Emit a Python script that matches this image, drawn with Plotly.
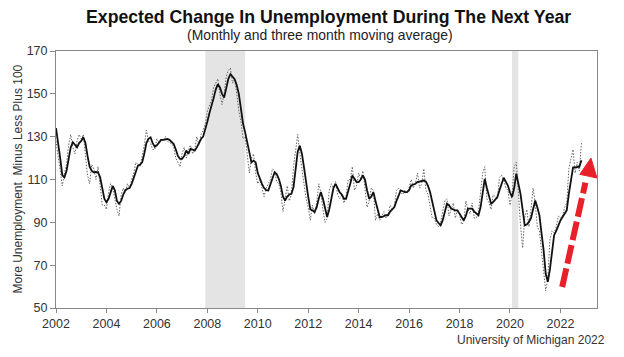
import plotly.graph_objects as go

# Monthly values, Jan 2002 .. Nov 2022 (dotted series)
monthly = {
    2002: [128, 121, 112, 107, 113, 117, 126, 131, 125, 122, 128, 131],
    2003: [129, 131, 121, 112, 108, 117, 115, 110, 116, 107, 98, 98],
    2004: [96, 104, 108, 106, 101, 96, 93, 103, 106, 104, 108, 106],
    2005: [110, 113, 118, 117, 116, 121, 126, 133, 128, 127, 124, 124],
    2006: [129, 127, 129, 128, 130, 128, 127, 127, 125, 120, 118, 116],
    2007: [122, 125, 120, 124, 126, 122, 124, 130, 126, 131, 133, 136],
    2008: [142, 145, 147, 153, 155, 157, 150, 145, 150, 158, 161, 162],
    2009: [155, 157, 150, 142, 137, 129, 130, 122, 113, 120, 122, 113],
    2010: [108, 110, 106, 102, 106, 108, 110, 115, 114, 109, 108, 104],
    2011: [95, 101, 107, 100, 103, 116, 125, 131, 122, 116, 108, 101],
    2012: [97, 91, 98, 94, 99, 108, 104, 96, 90, 92, 105, 108],
    2013: [106, 109, 103, 101, 103, 99, 102, 110, 110, 116, 105, 107],
    2014: [113, 110, 114, 106, 97, 100, 106, 105, 91, 94, 91, 93],
    2015: [95, 92, 94, 98, 96, 98, 105, 106, 104, 103, 105, 104],
    2016: [106, 110, 106, 108, 113, 106, 108, 115, 105, 103, 98, 92],
    2017: [92, 89, 88, 90, 95, 100, 101, 93, 96, 99, 92, 96],
    2018: [94, 89, 90, 100, 96, 94, 99, 92, 92, 95, 104, 113],
    2019: [116, 101, 99, 96, 103, 102, 101, 111, 112, 110, 106, 105],
    2020: [98, 103, 116, 118, 102, 89, 78, 92, 96, 88, 96, 106],
    2021: [99, 88, 86, 76, 65, 58, 64, 82, 86, 85, 88, 93],
    2022: [92, 93, 97, 99, 115, 120, 124, 113, 118, 114, 127],
}

# Three month moving average, Jan 2002 .. Nov 2022 (solid series)
moving_avg = {
    2002: [134, 128, 120, 112, 111, 114, 120, 125, 127.4, 126, 125, 127],
    2003: [128, 129.7, 127, 121, 116, 114, 113.4, 113.5, 113.4, 111, 106, 101],
    2004: [99.4, 101, 104, 107, 105, 100, 98.7, 100, 103, 105, 105.7, 106],
    2005: [108, 111, 114, 116.5, 117, 118, 122, 127, 129, 129.7, 127, 125.3],
    2006: [126, 127, 128.5, 128.5, 128.6, 128.9, 128.5, 127.5, 126.6, 124, 121, 119.6],
    2007: [119.6, 121, 123.5, 122, 124.3, 124, 123.5, 125, 127, 128.9, 130, 133],
    2008: [137, 141, 144, 148, 152, 154.5, 153, 150, 148.3, 152, 157, 159.2],
    2009: [158, 156.8, 154, 149.9, 143, 136, 132, 127, 122, 118, 118.8, 118],
    2010: [113, 110.3, 108, 106, 105, 104.9, 108, 111, 113.4, 112.5, 110.3, 107],
    2011: [102, 100.2, 102, 103, 103.3, 106.4, 115, 123, 125.8, 122, 115.7, 108],
    2012: [102, 96, 95.6, 94.8, 97, 101, 104.1, 101, 96, 92.5, 96, 102],
    2013: [106, 108, 106, 104, 103, 101, 101, 104, 108, 111.9, 110, 108.8],
    2014: [108.8, 110, 111.9, 110, 105, 101, 102, 104.1, 100, 96, 92.5, 92.5],
    2015: [93, 93.3, 93.3, 95, 96, 97.1, 100, 103, 104.9, 104.5, 104.1, 104.1],
    2016: [105, 107.2, 107.5, 108, 108.8, 109, 109, 109.5, 109, 107, 104, 100],
    2017: [94.8, 91, 89.7, 88.6, 91, 95, 98.7, 98, 96.4, 96, 95.6, 95.6],
    2018: [94, 93, 90.9, 93, 96.4, 96.4, 96.4, 95, 94, 93.3, 97, 104],
    2019: [110.3, 106, 102, 98.7, 99.5, 100.5, 101.8, 105, 108.5, 110.8, 109, 107.2],
    2020: [104, 101.8, 106, 112.7, 108, 103.3, 96, 88.6, 89, 90.2, 92, 95.6],
    2021: [100.2, 97, 93.3, 85, 77, 66, 62.2, 68, 77, 84, 86, 89],
    2022: [90.9, 92.5, 94, 95.6, 103.3, 110, 115.7, 115.7, 115.7, 116, 119],
}

recessions = [(2007.92, 2009.5), (2020.08, 2020.33)]
x_ticks = [2002, 2004, 2006, 2008, 2010, 2012, 2014, 2016, 2018, 2020, 2022]
y_ticks = [50, 70, 90, 110, 130, 150, 170]

def to_xy(d):
    xs, ys = [], []
    for yr in sorted(d):
        for m, v in enumerate(d[yr]):
            xs.append(yr + m / 12.0)
            ys.append(v)
    return xs, ys

mx, my = to_xy(monthly)
ax, ay = to_xy(moving_avg)

fig = go.Figure()
fig.add_trace(go.Scatter(x=mx, y=my, mode="lines",
                         line=dict(color="#666666", width=1, dash="1.5px,1.5px"),
                         hoverinfo="skip", showlegend=False))
fig.add_trace(go.Scatter(x=ax, y=ay, mode="lines",
                         line=dict(color="#111111", width=1.8),
                         showlegend=False))

for x0, x1 in recessions:
    fig.add_shape(type="rect", xref="x", yref="y", x0=x0, x1=x1, y0=50, y1=170,
                  fillcolor="#e4e4e4", line=dict(width=0), layer="below")

# red dashed arrow (decoration)
red = "#e8202a"
fig.add_shape(type="line", xref="x", yref="y", x0=2022.07, y0=59.8, x1=2022.99, y1=108.5,
              line=dict(color=red, width=6, dash="19px,5px"))
fig.add_shape(type="path", xref="x", yref="y",
              path="M 2023.21 120.0 L 2023.45 110.7 L 2022.77 112.4 Z",
              fillcolor=red, line=dict(color=red, width=1))

fnt = "Liberation Sans, Arial, sans-serif"
fig.update_layout(
    width=624, height=357,
    margin=dict(l=56, r=27, t=51, b=49),
    paper_bgcolor="white", plot_bgcolor="white",
    font=dict(family=fnt, size=12, color="#333333"),
    xaxis=dict(range=[2002, 2023.45], tickvals=x_ticks, ticks="outside", ticklen=4,
               tickcolor="#888888", showline=True, linecolor="#888888", mirror=True,
               showgrid=False, zeroline=False, tickfont=dict(size=12.5, color="#333333")),
    yaxis=dict(range=[50, 170], tickvals=y_ticks, ticks="outside", ticklen=5,
               tickcolor="#888888", showline=True, linecolor="#888888", mirror=True,
               showgrid=False, zeroline=False, tickfont=dict(size=12.5, color="#333333")),
    annotations=[
        dict(text="<b>Expected Change In Unemployment During The Next Year</b>",
             xref="paper", yref="paper", x=0.5, y=1, yshift=34, xshift=1.5,
             xanchor="center", yanchor="middle",
             showarrow=False, font=dict(size=17.7, color="#111111", family=fnt)),
        dict(text="(Monthly and three month moving average)",
             xref="paper", yref="paper", x=0.5, y=1, yshift=16, xshift=-6.5,
             xanchor="center", yanchor="middle",
             showarrow=False, font=dict(size=13.9, color="#222222", family=fnt)),
        dict(text="More Unemployment  Minus Less Plus 100",
             xref="paper", yref="paper", x=0, y=0.5, xshift=-39, textangle=-90,
             xanchor="center", yanchor="middle",
             showarrow=False, font=dict(size=12, color="#333333", family=fnt)),
        dict(text="University of Michigan 2022",
             xref="paper", yref="paper", x=1, y=0, xanchor="right", yanchor="middle",
             yshift=-32, xshift=10,
             showarrow=False, font=dict(size=12, color="#333333", family=fnt)),
    ],
)

fig.write_html("out.html", config={"displayModeBar": False},
               post_script="document.body.style.margin='0';document.body.style.padding='0';")
